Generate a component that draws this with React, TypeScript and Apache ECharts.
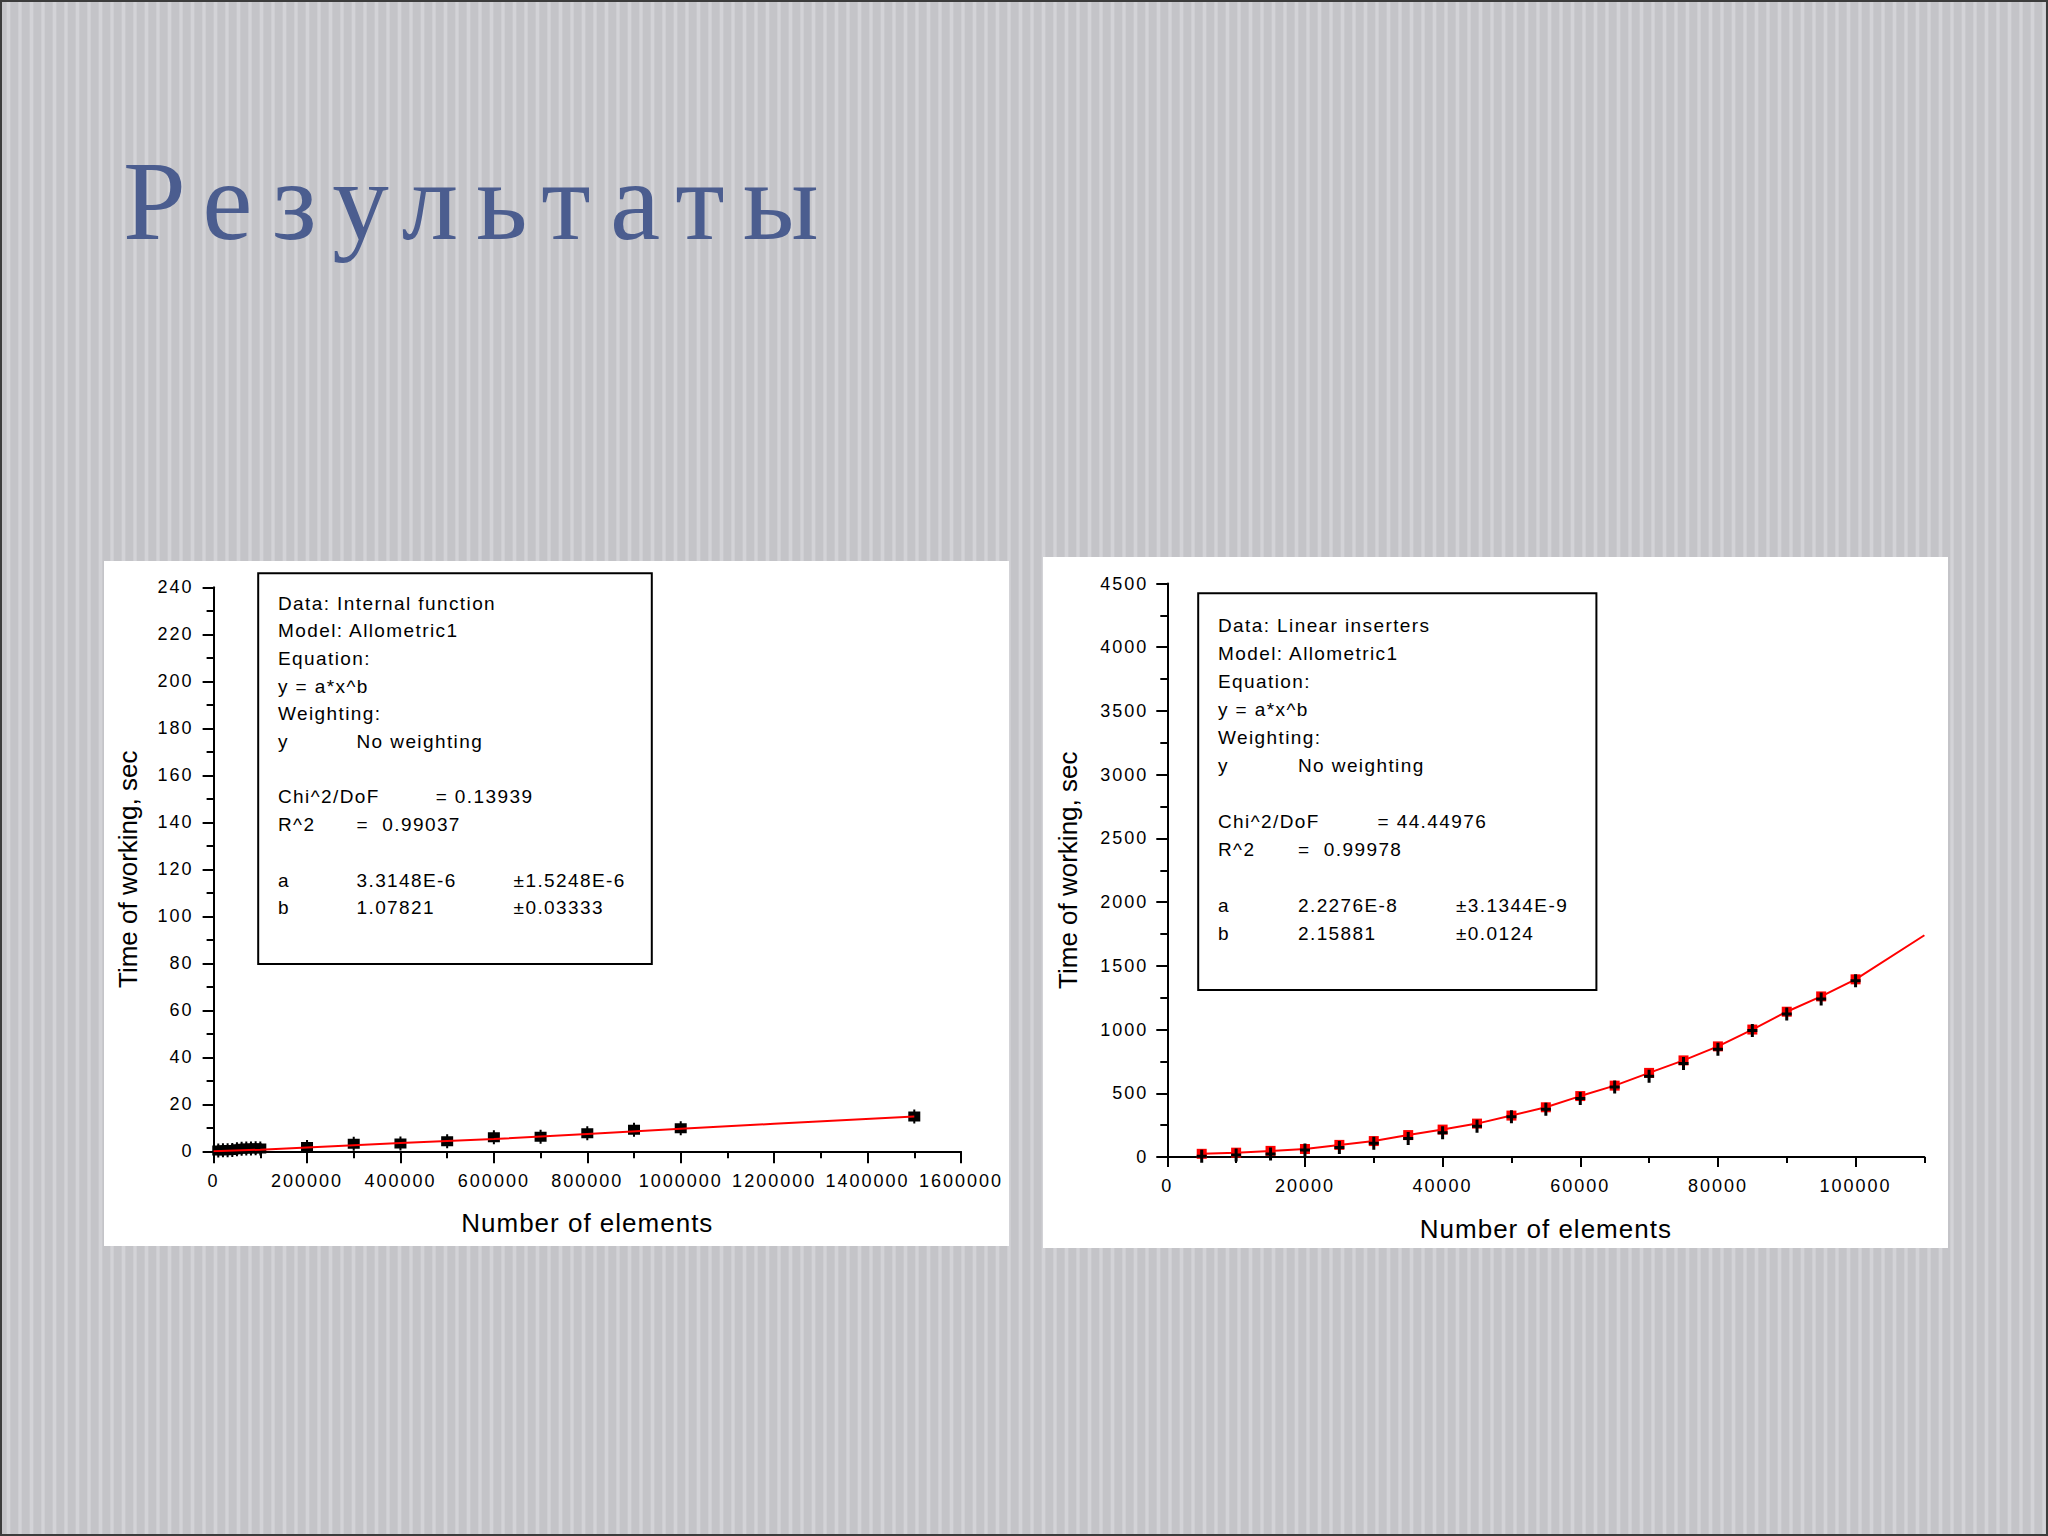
import React, { useEffect, useRef } from 'react';
import * as echarts from 'echarts';

// ---------- texts ----------
const titleText = 'Результаты';
const xAxisName = 'Number of elements';
const yAxisName = 'Time of working, sec';

// ---------- left chart data (Internal function) ----------
const leftDataX = [10000, 20000, 30000, 40000, 50000, 60000, 70000, 80000, 90000, 100000, 200000, 300000, 400000, 500000, 600000, 700000, 800000, 900000, 1000000, 1500000];
const leftDataY = [0.3, 0.4, 0.5, 0.6, 0.9, 1.1, 1.2, 1.2, 1.3, 1.2, 1.8, 3.2, 3.3, 4.3, 6.0, 6.2, 7.7, 9.2, 9.8, 14.8];
const leftFitX = [0, 100000, 200000, 400000, 600000, 800000, 1000000, 1200000, 1500000];
const leftFitY = [0, 0.7, 1.6, 3.5, 5.2, 7.4, 9.6, 11.7, 14.8];

// ---------- right chart data (Linear inserters) ----------
const rightDataX = [5000, 10000, 15000, 20000, 25000, 30000, 35000, 40000, 45000, 50000, 55000, 60000, 65000, 70000, 75000, 80000, 85000, 90000, 95000, 100000];
const rightDataY = [5, 15, 23, 55, 75, 107, 146, 190, 242, 315, 375, 459, 550, 634, 733, 845, 992, 1123, 1240, 1383];
const rightFitX = [5000, 10000, 15000, 20000, 25000, 30000, 35000, 40000, 45000, 50000, 55000, 60000, 65000, 70000, 75000, 80000, 85000, 90000, 95000, 100000, 110000];
const rightFitY = [25, 34, 48, 63, 95, 125, 172, 215, 262, 325, 390, 478, 560, 660, 758, 868, 1000, 1140, 1260, 1394, 1740];

// ---------- fit report boxes ----------
const leftBoxRows: string[][] = [
  ['Data: Internal function'],
  ['Model: Allometric1'],
  ['Equation:'],
  ['y = a*x^b'],
  ['Weighting:'],
  ['y', 'No weighting'],
  [],
  ['Chi^2/DoF', '', '= 0.13939'],
  ['R^2', '=  0.99037'],
  [],
  ['a', '3.3148E-6', '', '±1.5248E-6'],
  ['b', '1.07821', '', '±0.03333'],
];
const rightBoxRows: string[][] = [
  ['Data: Linear inserters'],
  ['Model: Allometric1'],
  ['Equation:'],
  ['y = a*x^b'],
  ['Weighting:'],
  ['y', 'No weighting'],
  [],
  ['Chi^2/DoF', '', '= 44.44976'],
  ['R^2', '=  0.99978'],
  [],
  ['a', '2.2276E-8', '', '±3.1344E-9'],
  ['b', '2.15881', '', '±0.0124'],
];

const SANS = '"Liberation Sans", Arial, sans-serif';
const SERIF = '"Liberation Serif", "Times New Roman", serif';

function zip(xs: number[], ys: number[]) {
  return xs.map((x, i) => [x, ys[i]]);
}

const plain = (v: number) => String(v);

function boxTexts(rows: string[][], colX: number[], y0: number, step: number) {
  const els: any[] = [];
  rows.forEach((row, r) => {
    row.forEach((s, c) => {
      if (!s) return;
      els.push({
        type: 'text',
        z: 20,
        style: {
          text: s,
          x: colX[c],
          y: y0 + r * step,
          fill: '#000',
          fontSize: 19,
          fontFamily: SANS,
          textAlign: 'left',
          align: 'left',
          textVerticalAlign: 'middle',
          verticalAlign: 'middle',
        },
      });
    });
  });
  return els;
}

const axisLineStyle = { color: '#000', width: 2 };

function valueXAxis(grid: number, max: number, interval: number, extra: any) {
  return {
    type: 'value',
    gridIndex: grid,
    min: 0,
    max,
    interval,
    splitLine: { show: false },
    axisLine: { show: true, onZero: false, lineStyle: axisLineStyle },
    axisTick: { show: true, inside: false, length: 12, lineStyle: axisLineStyle },
    minorTick: { show: true, splitNumber: 2, length: 7, lineStyle: axisLineStyle },
    minorSplitLine: { show: false },
    axisLabel: { color: '#000', fontSize: 18, fontFamily: SANS, margin: 21, formatter: plain },
    name: xAxisName,
    nameLocation: 'middle',
    nameGap: 59,
    nameTextStyle: { color: '#000', fontSize: 26, fontFamily: SANS },
    ...extra,
  };
}

function valueYAxis(grid: number, max: number, interval: number, nameGap: number, labelMargin: number) {
  return {
    type: 'value',
    gridIndex: grid,
    min: 0,
    max,
    interval,
    splitLine: { show: false },
    axisLine: { show: true, onZero: false, lineStyle: axisLineStyle },
    axisTick: { show: true, inside: false, length: 11, lineStyle: axisLineStyle },
    minorTick: { show: true, splitNumber: 2, length: 7, lineStyle: axisLineStyle },
    minorSplitLine: { show: false },
    axisLabel: { color: '#000', fontSize: 18, fontFamily: SANS, margin: labelMargin, formatter: plain },
    name: yAxisName,
    nameLocation: 'middle',
    nameGap,
    nameTextStyle: { color: '#000', fontSize: 26, fontFamily: SANS },
  };
}

export default function App() {
  const ref = useRef<HTMLDivElement>(null);

  useEffect(() => {
    const el = ref.current;
    if (!el) return;
    const chart = echarts.init(el, undefined, { renderer: 'svg', width: 2048, height: 1536 });

    const option: any = {
      animation: false,
      backgroundColor: 'transparent',
      grid: [
        { left: 213.6, top: 587.3, width: 747.4, height: 564, containLabel: false },
        { left: 1167.3, top: 583.5, width: 757.1, height: 573.5, containLabel: false },
        { left: 1167.3, top: 583.5, width: 688.3, height: 573.5, containLabel: false },
      ],
      xAxis: [
        valueXAxis(0, 1600000, 200000, {}),
        valueXAxis(1, 110000, 10000, {
          axisTick: { show: true, inside: false, length: 6, lineStyle: axisLineStyle },
          minorTick: { show: false },
          axisLabel: {
            color: '#000', fontSize: 18, fontFamily: SANS, margin: 20,
            formatter: (v: number) => (v % 20000 === 0 ? String(v) : ''),
          },
        }),
        {
          type: 'value', gridIndex: 2, min: 0, max: 100000, interval: 20000,
          splitLine: { show: false },
          axisLine: { show: false, onZero: false },
          axisTick: { show: true, inside: false, length: 10, lineStyle: axisLineStyle },
          axisLabel: { show: false },
        },
      ],
      yAxis: [
        valueYAxis(0, 240, 20, 73, 20),
        valueYAxis(1, 4500, 500, 86, 19),
        { type: 'value', gridIndex: 2, min: 0, max: 1, show: false },
      ],
      series: [
        {
          name: 'Internal function',
          type: 'scatter',
          xAxisIndex: 0, yAxisIndex: 0,
          data: zip(leftDataX, leftDataY),
          symbol: 'path://M0,2h12v10h-12z M5,0h2v14h-2z',
          symbolSize: [12, 14],
          itemStyle: { color: '#000', opacity: 1 },
          z: 3,
        },
        {
          name: 'Allometric1 fit (left)',
          type: 'line',
          xAxisIndex: 0, yAxisIndex: 0,
          data: zip(leftFitX, leftFitY),
          showSymbol: false,
          symbol: 'none',
          lineStyle: { color: '#ff0000', width: 2 },
          z: 4,
        },
        {
          name: 'Allometric1 fit (right)',
          type: 'line',
          xAxisIndex: 1, yAxisIndex: 1,
          data: rightFitX.map((x, i) => (x > 100000 ? { value: [x, rightFitY[i]], symbol: 'none' } : [x, rightFitY[i]])),
          showSymbol: true,
          symbol: 'rect',
          symbolSize: 10,
          itemStyle: { color: '#ff0000', opacity: 1 },
          lineStyle: { color: '#ff0000', width: 2 },
          z: 3,
        },
        {
          name: 'Linear inserters',
          type: 'scatter',
          xAxisIndex: 1, yAxisIndex: 1,
          data: zip(rightDataX, rightDataY),
          symbol: 'path://M3.5,0h3v5h3.5v3h-3.5v5h-3v-5h-3.5v-3h3.5z',
          symbolSize: [10, 13],
          itemStyle: { color: '#000', opacity: 1 },
          z: 4,
        },
      ],
      graphic: [
        { type: 'rect', z: -10, shape: { x: 104, y: 561, width: 905, height: 685 }, style: { fill: '#ffffff' } },
        { type: 'rect', z: -10, shape: { x: 1043, y: 557, width: 905, height: 691 }, style: { fill: '#ffffff' } },
        {
          type: 'text', z: 20,
          style: {
            text: titleText, x: 123, y: 200, fill: '#4b5d8f',
            fontSize: 113, fontFamily: SERIF,
            textAlign: 'left', align: 'left', textVerticalAlign: 'middle', verticalAlign: 'middle',
          },
        },
        { type: 'rect', z: 15, shape: { x: 258.2, y: 573.3, width: 393.6, height: 390.7 }, style: { fill: 'none', stroke: '#000', lineWidth: 2 } },
        { type: 'rect', z: 15, shape: { x: 1198.2, y: 593.3, width: 398.2, height: 396.7 }, style: { fill: 'none', stroke: '#000', lineWidth: 2 } },
        ...boxTexts(leftBoxRows, [278, 356.5, 435.7, 513.6], 603.3, 27.67),
        ...boxTexts(rightBoxRows, [1218, 1298, 1377.5, 1456], 625, 28.03),
      ],
    };

    chart.setOption(option);

    const applySpacing = () => {
      el.querySelectorAll('text').forEach((t) => {
        const s = t.textContent || '';
        const fs = parseFloat(getComputedStyle(t).fontSize);
        let ls = 0;
        if (s === titleText) ls = 18;
        else if (s === xAxisName) ls = 1;
        else if (Math.abs(fs - 19) < 0.1) ls = 1.4;
        else if (Math.abs(fs - 18) < 0.1) ls = 2;
        if (ls) (t as SVGTextElement).style.letterSpacing = ls + 'px';
      });
    };
    chart.on('finished', applySpacing);
    applySpacing();
    const timers = [50, 200, 600].map((d) => window.setTimeout(applySpacing, d));

    return () => {
      timers.forEach((t) => window.clearTimeout(t));
      chart.dispose();
    };
  }, []);

  return (
    <div
      style={{
        position: 'absolute',
        left: 0,
        top: 0,
        width: 2048,
        height: 1536,
        boxSizing: 'border-box',
        background:
          'repeating-linear-gradient(90deg, #c4c4c8 0px, #c4c4c8 6px, #d3d3d7 7.5px, #d3d3d7 9.5px, #c4c4c8 11px, #c4c4c8 11.5px)',
        boxShadow: 'inset 0 0 0 2px #3c3c3c',
      }}
    >
      <div ref={ref} style={{ position: 'absolute', left: 0, top: 0, width: 2048, height: 1536 }} />
    </div>
  );
}
